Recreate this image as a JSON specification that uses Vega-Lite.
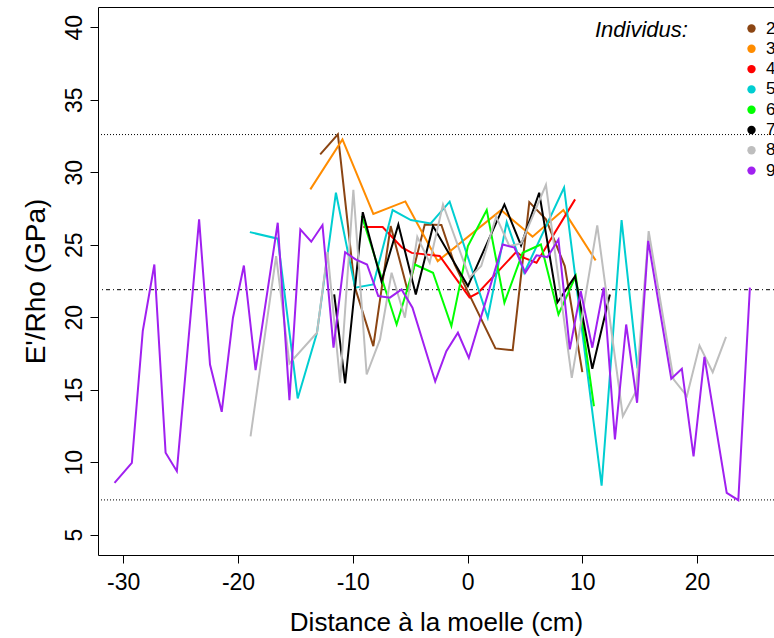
{
  "$schema": "https://vega.github.io/schema/vega-lite/v6.json",
  "width": 676,
  "height": 548,
  "autosize": {"type": "none"},
  "padding": {"left": 98, "top": 7, "right": 0, "bottom": 83},
  "background": "white",
  "config": {
    "font": "Liberation Sans",
    "view": {"stroke": "black", "strokeWidth": 1},
    "axis": {
      "grid": false,
      "domain": false,
      "tickColor": "black",
      "tickSize": 8,
      "tickWidth": 1,
      "labelColor": "black",
      "titleColor": "black",
      "labelFont": "Liberation Sans",
      "titleFont": "Liberation Sans",
      "titleFontWeight": "normal",
      "labelFontSize": 23,
      "titleFontSize": 26
    }
  },
  "datasets": {
    "ref": [
      {"y": 32.6, "type": "dotted"},
      {"y": 21.9, "type": "dotdash"},
      {"y": 7.4, "type": "dotted"}
    ],
    "series": [
      {"id": "2", "x": -12.84, "y": 31.24},
      {"id": "2", "x": -11.3, "y": 32.62},
      {"id": "2", "x": -9.84, "y": 22.13},
      {"id": "2", "x": -8.21, "y": 18.01},
      {"id": "2", "x": -6.7, "y": 26.29},
      {"id": "2", "x": -5.2, "y": 21.78},
      {"id": "2", "x": -3.73, "y": 26.4},
      {"id": "2", "x": -2.28, "y": 26.36},
      {"id": "2", "x": -1.13, "y": 23.64},
      {"id": "2", "x": 2.43, "y": 17.85},
      {"id": "2", "x": 3.93, "y": 17.73},
      {"id": "2", "x": 5.38, "y": 27.94},
      {"id": "2", "x": 6.83, "y": 26.75},
      {"id": "2", "x": 8.47, "y": 23.53},
      {"id": "2", "x": 10.0, "y": 16.21},

      {"id": "3", "x": -13.7, "y": 28.82},
      {"id": "3", "x": -10.9, "y": 32.27},
      {"id": "3", "x": -8.21, "y": 27.13},
      {"id": "3", "x": -5.42, "y": 27.99},
      {"id": "3", "x": -2.6, "y": 23.87},
      {"id": "3", "x": 2.92, "y": 27.39},
      {"id": "3", "x": 5.66, "y": 25.56},
      {"id": "3", "x": 8.35, "y": 27.39},
      {"id": "3", "x": 11.16, "y": 23.92},

      {"id": "4", "x": -9.08, "y": 26.22},
      {"id": "4", "x": -7.4, "y": 26.22},
      {"id": "4", "x": -5.72, "y": 24.82},
      {"id": "4", "x": -4.86, "y": 24.44},
      {"id": "4", "x": -2.43, "y": 24.23},
      {"id": "4", "x": 0.17, "y": 21.37},
      {"id": "4", "x": 0.91, "y": 21.68},
      {"id": "4", "x": 4.25, "y": 24.51},
      {"id": "4", "x": 4.94, "y": 24.09},
      {"id": "4", "x": 6.01, "y": 23.76},
      {"id": "4", "x": 9.37, "y": 28.13},

      {"id": "5", "x": -18.97, "y": 25.87},
      {"id": "5", "x": -16.54, "y": 25.42},
      {"id": "5", "x": -14.8, "y": 14.4},
      {"id": "5", "x": -13.12, "y": 18.93},
      {"id": "5", "x": -11.47, "y": 28.59},
      {"id": "5", "x": -9.8, "y": 22.04},
      {"id": "5", "x": -8.21, "y": 22.26},
      {"id": "5", "x": -6.53, "y": 27.39},
      {"id": "5", "x": -4.94, "y": 26.7},
      {"id": "5", "x": -3.21, "y": 26.47},
      {"id": "5", "x": -1.56, "y": 27.97},
      {"id": "5", "x": 1.76, "y": 19.97},
      {"id": "5", "x": 3.41, "y": 26.56},
      {"id": "5", "x": 4.94, "y": 23.07},
      {"id": "5", "x": 8.41, "y": 28.94},
      {"id": "5", "x": 11.68, "y": 8.39},
      {"id": "5", "x": 13.42, "y": 26.7},
      {"id": "5", "x": 14.81, "y": 16.48},

      {"id": "6", "x": -9.22, "y": 26.98},
      {"id": "6", "x": -6.18, "y": 19.5},
      {"id": "6", "x": -4.6, "y": 23.64},
      {"id": "6", "x": -3.01, "y": 23.07},
      {"id": "6", "x": -1.41, "y": 19.39},
      {"id": "6", "x": 0.03, "y": 24.91},
      {"id": "6", "x": 1.67, "y": 27.39},
      {"id": "6", "x": 3.21, "y": 21.0},
      {"id": "6", "x": 4.8, "y": 24.45},
      {"id": "6", "x": 6.39, "y": 25.02},
      {"id": "6", "x": 7.92, "y": 20.19},
      {"id": "6", "x": 9.43, "y": 22.84},
      {"id": "6", "x": 11.01, "y": 13.86},

      {"id": "7", "x": -11.62, "y": 21.57},
      {"id": "7", "x": -10.67, "y": 15.43},
      {"id": "7", "x": -9.13, "y": 27.25},
      {"id": "7", "x": -7.5, "y": 22.47},
      {"id": "7", "x": -6.03, "y": 26.4},
      {"id": "7", "x": -4.51, "y": 21.57},
      {"id": "7", "x": -3.01, "y": 26.29},
      {"id": "7", "x": 0.03, "y": 22.15},
      {"id": "7", "x": 3.21, "y": 27.78},
      {"id": "7", "x": 4.66, "y": 24.96},
      {"id": "7", "x": 6.24, "y": 28.59},
      {"id": "7", "x": 7.83, "y": 21.02},
      {"id": "7", "x": 9.37, "y": 22.84},
      {"id": "7", "x": 10.87, "y": 16.45},
      {"id": "7", "x": 12.4, "y": 21.57},

      {"id": "8", "x": -18.91, "y": 11.79},
      {"id": "8", "x": -16.68, "y": 24.22},
      {"id": "8", "x": -15.52, "y": 16.81},
      {"id": "8", "x": -13.12, "y": 18.93},
      {"id": "8", "x": -12.2, "y": 24.51},
      {"id": "8", "x": -11.1, "y": 15.48},
      {"id": "8", "x": -9.95, "y": 28.79},
      {"id": "8", "x": -8.79, "y": 16.05},
      {"id": "8", "x": -7.63, "y": 18.47},
      {"id": "8", "x": -6.62, "y": 23.07},
      {"id": "8", "x": -5.46, "y": 19.97},
      {"id": "8", "x": -4.38, "y": 25.54},
      {"id": "8", "x": -3.3, "y": 23.76},
      {"id": "8", "x": -2.14, "y": 27.78},
      {"id": "8", "x": 0.17, "y": 22.73},
      {"id": "8", "x": 1.19, "y": 23.53},
      {"id": "8", "x": 2.49, "y": 26.94},
      {"id": "8", "x": 3.64, "y": 24.91},
      {"id": "8", "x": 4.68, "y": 25.09},
      {"id": "8", "x": 6.83, "y": 29.13},
      {"id": "8", "x": 9.08, "y": 15.82},
      {"id": "8", "x": 11.3, "y": 26.34},
      {"id": "8", "x": 13.53, "y": 13.17},
      {"id": "8", "x": 14.68, "y": 14.9},
      {"id": "8", "x": 15.78, "y": 25.94},
      {"id": "8", "x": 17.95, "y": 15.71},
      {"id": "8", "x": 19.11, "y": 14.56},
      {"id": "8", "x": 20.21, "y": 18.05},
      {"id": "8", "x": 21.36, "y": 16.21},
      {"id": "8", "x": 22.52, "y": 18.65},

      {"id": "9", "x": -30.76, "y": 8.58},
      {"id": "9", "x": -29.25, "y": 9.96},
      {"id": "9", "x": -28.3, "y": 19.04},
      {"id": "9", "x": -27.29, "y": 23.64},
      {"id": "9", "x": -26.31, "y": 10.65},
      {"id": "9", "x": -25.33, "y": 9.38},
      {"id": "9", "x": -23.39, "y": 26.75},
      {"id": "9", "x": -22.44, "y": 16.74},
      {"id": "9", "x": -21.42, "y": 13.48},
      {"id": "9", "x": -20.44, "y": 19.97},
      {"id": "9", "x": -19.49, "y": 23.57},
      {"id": "9", "x": -18.47, "y": 16.35},
      {"id": "9", "x": -16.54, "y": 26.52},
      {"id": "9", "x": -15.52, "y": 14.28},
      {"id": "9", "x": -14.57, "y": 26.06},
      {"id": "9", "x": -13.62, "y": 25.21},
      {"id": "9", "x": -12.64, "y": 26.36},
      {"id": "9", "x": -11.68, "y": 17.9},
      {"id": "9", "x": -10.67, "y": 24.49},
      {"id": "9", "x": -9.76, "y": 23.99},
      {"id": "9", "x": -8.76, "y": 23.64},
      {"id": "9", "x": -7.78, "y": 21.46},
      {"id": "9", "x": -6.77, "y": 21.35},
      {"id": "9", "x": -5.75, "y": 21.92},
      {"id": "9", "x": -4.8, "y": 20.66},
      {"id": "9", "x": -2.82, "y": 15.57},
      {"id": "9", "x": -1.85, "y": 17.66},
      {"id": "9", "x": -0.84, "y": 18.93},
      {"id": "9", "x": 0.11, "y": 17.2},
      {"id": "9", "x": 3.06, "y": 25.02},
      {"id": "9", "x": 4.08, "y": 24.8},
      {"id": "9", "x": 5.03, "y": 23.07},
      {"id": "9", "x": 6.01, "y": 24.27},
      {"id": "9", "x": 6.96, "y": 24.15},
      {"id": "9", "x": 7.92, "y": 25.37},
      {"id": "9", "x": 8.91, "y": 17.78},
      {"id": "9", "x": 9.86, "y": 21.8},
      {"id": "9", "x": 10.87, "y": 17.9},
      {"id": "9", "x": 11.86, "y": 22.04},
      {"id": "9", "x": 12.84, "y": 11.57},
      {"id": "9", "x": 13.82, "y": 19.5},
      {"id": "9", "x": 14.77, "y": 14.1},
      {"id": "9", "x": 15.74, "y": 25.27},
      {"id": "9", "x": 17.75, "y": 15.76},
      {"id": "9", "x": 18.67, "y": 16.45},
      {"id": "9", "x": 19.69, "y": 10.41},
      {"id": "9", "x": 20.64, "y": 17.27},
      {"id": "9", "x": 22.58, "y": 7.89},
      {"id": "9", "x": 23.59, "y": 7.38},
      {"id": "9", "x": 24.6, "y": 22.04}
    ]
  },
  "layer": [
    {
      "data": {"name": "ref"},
      "mark": {"type": "rule", "strokeWidth": 1, "color": "black"},
      "encoding": {
        "y": {
          "field": "y", "type": "quantitative",
          "scale": {"domain": [3.6, 41.4], "nice": false, "zero": false}
        },
        "strokeDash": {
          "field": "type", "type": "nominal",
          "scale": {"domain": ["dotted", "dotdash"], "range": [[1, 2], [1, 3, 4, 3]]},
          "legend": null
        }
      }
    },
    {
      "data": {"name": "series"},
      "mark": {"type": "line", "strokeWidth": 2, "clip": true},
      "encoding": {
        "x": {
          "field": "x", "type": "quantitative",
          "scale": {"domain": [-32.2, 26.7], "nice": false, "zero": false},
          "axis": {
            "values": [-30, -20, -10, 0, 10, 20],
            "labelExpr": "'' + datum.value",
            "labelBaseline": "alphabetic",
            "labelPadding": 26,
            "title": "Distance à la moelle (cm)",
            "titleBaseline": "alphabetic",
            "titleY": 75
          }
        },
        "y": {
          "field": "y", "type": "quantitative",
          "scale": {"domain": [3.6, 41.4], "nice": false, "zero": false},
          "axis": {
            "values": [5, 10, 15, 20, 25, 30, 35, 40],
            "labelAngle": -90,
            "labelAlign": "center",
            "labelBaseline": "alphabetic",
            "labelPadding": 9,
            "title": "E'/Rho (GPa)",
            "titleFontSize": 28,
            "titleAngle": -90,
            "titleAlign": "center",
            "titleBaseline": "alphabetic",
            "titleX": -54,
            "titleY": 274
          }
        },
        "color": {
          "field": "id", "type": "nominal",
          "scale": {
            "domain": ["2", "3", "4", "5", "6", "7", "8", "9"],
            "range": ["#8B4513", "#FF8C00", "#FF0000", "#00CED1", "#00FF00", "#000000", "#BEBEBE", "#A020F0"]
          },
          "legend": {
            "orient": "none",
            "legendX": 497,
            "legendY": 13,
            "padding": 0,
            "title": "Individus:",
            "titleOrient": "left",
            "titleAnchor": "start",
            "titleBaseline": "top",
            "titleFontStyle": "italic",
            "titleFontWeight": "normal",
            "titleFontSize": 22,
            "titleColor": "black",
            "titlePadding": 55,
            "labelFontSize": 17,
            "labelColor": "black",
            "labelOffset": 6,
            "symbolType": "circle",
            "symbolSize": 70,
            "symbolStrokeWidth": 0,
            "rowPadding": 2.3,
            "encode": {
              "symbols": {"update": {"fill": {"scale": "color", "field": "value"}, "opacity": {"value": 1}}}
            }
          }
        }
      }
    }
  ]
}
